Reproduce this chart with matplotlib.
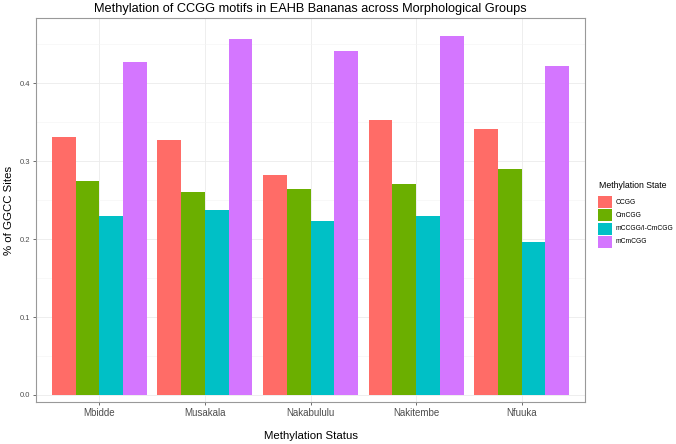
import matplotlib.pyplot as plt
from matplotlib.patches import Rectangle
import numpy as np

plt.rcParams['font.family'] = ['Liberation Sans', 'DejaVu Sans']

groups = ['Mbidde', 'Musakala', 'Nakabululu', 'Nakitembe', 'Nfuuka']
states = ['CCGG', 'CmCGG', 'mCCGG/I-CmCGG', 'mCmCGG']
ccgg = [0.331, 0.327, 0.282, 0.353, 0.342]
cmcgg = [0.275, 0.260, 0.264, 0.271, 0.290]
mccgg = [0.230, 0.238, 0.223, 0.230, 0.197]
mcmcgg = [0.427, 0.457, 0.442, 0.461, 0.423]
colors = ['#FF6C67', '#6BAF00', '#00C0C6', '#D476FF']

series = [ccgg, cmcgg, mccgg, mcmcgg]

W, H = 676, 444
fig = plt.figure(figsize=(W/100, H/100), dpi=100)
ax = fig.add_axes([36/W, 1 - 402/H, (585-36)/W, (402-18)/H])

x = np.arange(1, len(groups) + 1)
w = 0.225
for i in range(len(states)):
    ax.bar(x + (i - 1.5) * w, series[i], width=w, color=colors[i], label=states[i], zorder=3)

ax.set_xlim(0.4, 5.6)
ax.set_ylim(-0.009, 0.484)
ax.set_xticks(x)
ax.set_xticklabels(groups)
ax.set_yticks([0.0, 0.1, 0.2, 0.3, 0.4])
ax.set_yticklabels(['0.0', '0.1', '0.2', '0.3', '0.4'])
ax.set_yticks([0.05, 0.15, 0.25, 0.35, 0.45], minor=True)

ax.grid(True, which='major', color='#EBEBEB', lw=0.6, zorder=0)
ax.grid(True, which='minor', axis='y', color='#F4F4F4', lw=0.4, zorder=0)
ax.tick_params(axis='x', which='major', labelsize=7, labelcolor='#4D4D4D', color='#333333', length=2.5, width=0.5, pad=2)
ax.tick_params(axis='y', which='major', labelsize=5.5, labelcolor='#4D4D4D', color='#333333', length=2.5, width=0.5, pad=2)
ax.tick_params(axis='both', which='minor', length=0)
for s in ax.spines.values():
    s.set_color('#999999')
    s.set_linewidth(0.8)

ax.set_title('Methylation of CCGG motifs in EAHB Bananas across Morphological Groups', fontsize=9.2, pad=4)
ax.set_xlabel('Methylation Status', fontsize=8.2, labelpad=9)
ax.set_ylabel('% of GGCC Sites', fontsize=8.2, labelpad=4)

# legend drawn by hand so key size and spacing match ggplot
fig.text(599/W, 1 - 186/H, 'Methylation State', fontsize=6.3, va='center', ha='left')
key_top = 196
for i in range(len(states)):
    top = key_top + i * 13.3
    fig.add_artist(Rectangle((598/W, 1 - (top + 12)/H), 14/W, 12/H, transform=fig.transFigure,
                             facecolor=colors[i], edgecolor='none'))
    fig.text(616/W, 1 - (top + 6)/H, states[i], fontsize=4.9, va='center', ha='left')

fig.savefig('out.png', dpi=100)
